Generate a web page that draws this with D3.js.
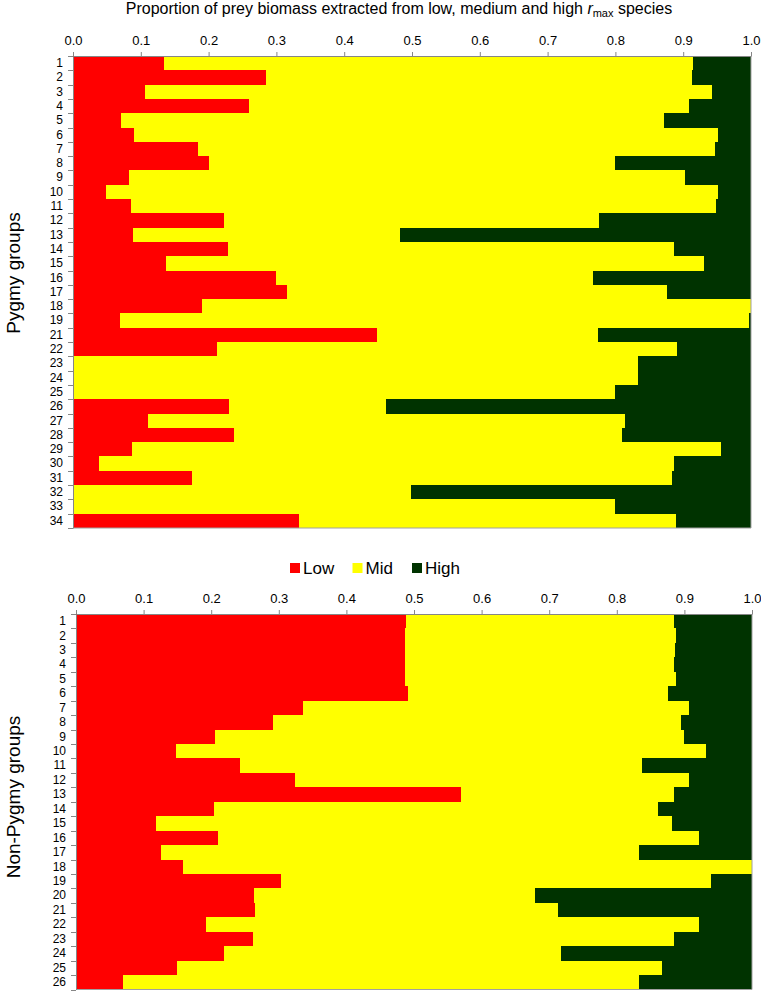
<!DOCTYPE html>
<html>
<head>
<meta charset="utf-8">
<script src="https://cdn.jsdelivr.net/npm/d3@7"></script>
<style>
  html, body { margin: 0; padding: 0; background: #fff; }
  svg { display: block; font-family: "Liberation Sans", Arial, sans-serif; }
  .axis text { fill: #000; font-size: 13px; }
  .axis path, .axis line { stroke: #868686; }
  .ylab text { font-size: 12px; }
</style>
</head>
<body>
<div id="chart"></div>
<script>
// series values (proportions of biomass)
const seriesNames = ['Low', 'Mid', 'High'];
const seriesColors = ['#ff0000', '#ffff00', '#003300'];
const xTicks = [0, 0.1, 0.2, 0.3, 0.4, 0.5, 0.6, 0.7, 0.8, 0.9, 1.0];

const pygmyGroups = ['1','2','3','4','5','6','7','8','9','10','11','12','13','14','15','16','17','18','19',
  '21','22','23','24','25','26','27','28','29','30','31','32','33','34'];
const pygmyLow = [0.134, 0.284, 0.106, 0.260, 0.071, 0.090, 0.184, 0.200, 0.082, 0.048, 0.085, 0.223, 0.088,
  0.228, 0.137, 0.300, 0.316, 0.190, 0.069, 0.449, 0.212, 0, 0, 0, 0.230, 0.111, 0.238, 0.087, 0.038, 0.176,
  0, 0, 0.333];
const pygmyMid = [0.781, 0.629, 0.837, 0.648, 0.801, 0.861, 0.763, 0.600, 0.820, 0.904, 0.864, 0.553, 0.394,
  0.658, 0.794, 0.467, 0.560, 0.810, 0.928, 0.325, 0.679, 0.833, 0.833, 0.800, 0.231, 0.703, 0.571, 0.869,
  0.849, 0.707, 0.498, 0.800, 0.557];
const pygmyHigh = [0.085, 0.087, 0.057, 0.092, 0.128, 0.049, 0.053, 0.200, 0.098, 0.048, 0.051, 0.224, 0.518,
  0.114, 0.069, 0.233, 0.124, 0.000, 0.003, 0.226, 0.109, 0.167, 0.167, 0.200, 0.539, 0.186, 0.191, 0.044,
  0.113, 0.117, 0.502, 0.200, 0.110];

const nonPygmyGroups = ['1','2','3','4','5','6','7','8','9','10','11','12','13','14','15','16','17','18','19',
  '20','21','22','23','24','25','26'];
const nonPygmyLow = [0.488, 0.486, 0.487, 0.487, 0.487, 0.491, 0.336, 0.291, 0.206, 0.148, 0.242, 0.324, 0.570,
  0.204, 0.119, 0.210, 0.126, 0.158, 0.303, 0.264, 0.265, 0.193, 0.262, 0.219, 0.149, 0.070];
const nonPygmyMid = [0.397, 0.402, 0.399, 0.398, 0.400, 0.384, 0.571, 0.604, 0.694, 0.784, 0.596, 0.583, 0.315,
  0.657, 0.762, 0.711, 0.707, 0.842, 0.636, 0.415, 0.448, 0.728, 0.622, 0.498, 0.718, 0.763];
const nonPygmyHigh = [0.115, 0.112, 0.114, 0.115, 0.113, 0.125, 0.093, 0.105, 0.100, 0.068, 0.162, 0.093, 0.115,
  0.139, 0.119, 0.079, 0.167, 0.000, 0.061, 0.321, 0.287, 0.079, 0.116, 0.283, 0.133, 0.167];

const svg = d3.select('#chart')
  .append('svg')
  .attr('width', 761)
  .attr('height', 993);

// title with italic r and subscript max
const title = svg.append('text')
  .attr('x', 399)
  .attr('y', 14)
  .attr('text-anchor', 'middle')
  .style('font-size', '16px');
title.append('tspan').text('Proportion of prey biomass extracted from low, medium and high ');
title.append('tspan').style('font-style', 'italic').text('r');
title.append('tspan').attr('dy', 3).style('font-size', '11px').text('max');
title.append('tspan').attr('dy', -3).text(' species');

function drawPanel(groups, low, mid, high, box, yTitle, yTitleY) {
  const rows = groups.map((g, i) => ({ group: g, Low: low[i], Mid: mid[i], High: high[i] }));
  const stacked = d3.stack().keys(seriesNames)(rows);

  const x = d3.scaleLinear().domain([0, 1]).range([box.x0, box.x1]);
  const y = d3.scaleBand().domain(groups).range([box.y0, box.y1]).paddingInner(0).paddingOuter(0);
  const color = d3.scaleOrdinal().domain(seriesNames).range(seriesColors);
  const top = g => Math.round(y(g));
  const bottom = g => Math.round(y(g) + y.bandwidth());

  svg.append('g')
    .attr('shape-rendering', 'crispEdges')
    .selectAll('g')
    .data(stacked)
    .join('g')
    .attr('fill', d => color(d.key))
    .selectAll('rect')
    .data(d => d)
    .join('rect')
    .attr('x', d => x(d[0]))
    .attr('y', d => top(d.data.group))
    .attr('width', d => Math.max(0, x(d[1]) - x(d[0])))
    .attr('height', d => bottom(d.data.group) - top(d.data.group));

  // plot frame on right and bottom
  svg.append('path')
    .attr('d', `M${box.x1},${box.y0}V${box.y1}H${box.x0}`)
    .attr('fill', 'none')
    .attr('stroke', '#a0a0a0');

  svg.append('g')
    .attr('class', 'axis')
    .attr('transform', `translate(0,${box.y0})`)
    .call(d3.axisTop(x).tickValues(xTicks).tickFormat(d3.format('.1f')).tickSize(4).tickSizeOuter(0).tickPadding(7));

  const yAxis = svg.append('g')
    .attr('class', 'axis ylab')
    .attr('transform', `translate(${box.x0},0)`)
    .call(d3.axisLeft(y).tickSize(0).tickSizeOuter(0).tickPadding(10));

  // category boundary ticks
  const bounds = groups.map(g => top(g)).concat([Math.round(box.y1)]);
  yAxis.selectAll('.bound')
    .data(bounds)
    .join('line')
    .attr('class', 'bound')
    .attr('x1', -5)
    .attr('x2', 0)
    .attr('y1', d => d + 0.5)
    .attr('y2', d => d + 0.5);

  svg.append('text')
    .attr('transform', `translate(20,${yTitleY}) rotate(-90)`)
    .attr('text-anchor', 'middle')
    .style('font-size', '19px')
    .text(yTitle);
}

drawPanel(pygmyGroups, pygmyLow, pygmyMid, pygmyHigh,
  { x0: 73, x1: 751, y0: 56, y1: 528 }, 'Pygmy groups', 273);

drawPanel(nonPygmyGroups, nonPygmyLow, nonPygmyMid, nonPygmyHigh,
  { x0: 76, x1: 752, y0: 614, y1: 989.5 }, 'Non-Pygmy groups', 797);

// legend
const legend = svg.append('g')
  .attr('transform', 'translate(290,568)')
  .selectAll('g')
  .data(seriesNames)
  .join('g')
  .attr('transform', (d, i) => `translate(${[0, 62.5, 122][i]},0)`);

legend.append('rect')
  .attr('x', 0)
  .attr('y', -5)
  .attr('width', 10)
  .attr('height', 10)
  .attr('fill', (d, i) => seriesColors[i]);

legend.append('text')
  .attr('x', 13)
  .attr('y', 6)
  .style('font-size', '17px')
  .text(d => d);
</script>
</body>
</html>
